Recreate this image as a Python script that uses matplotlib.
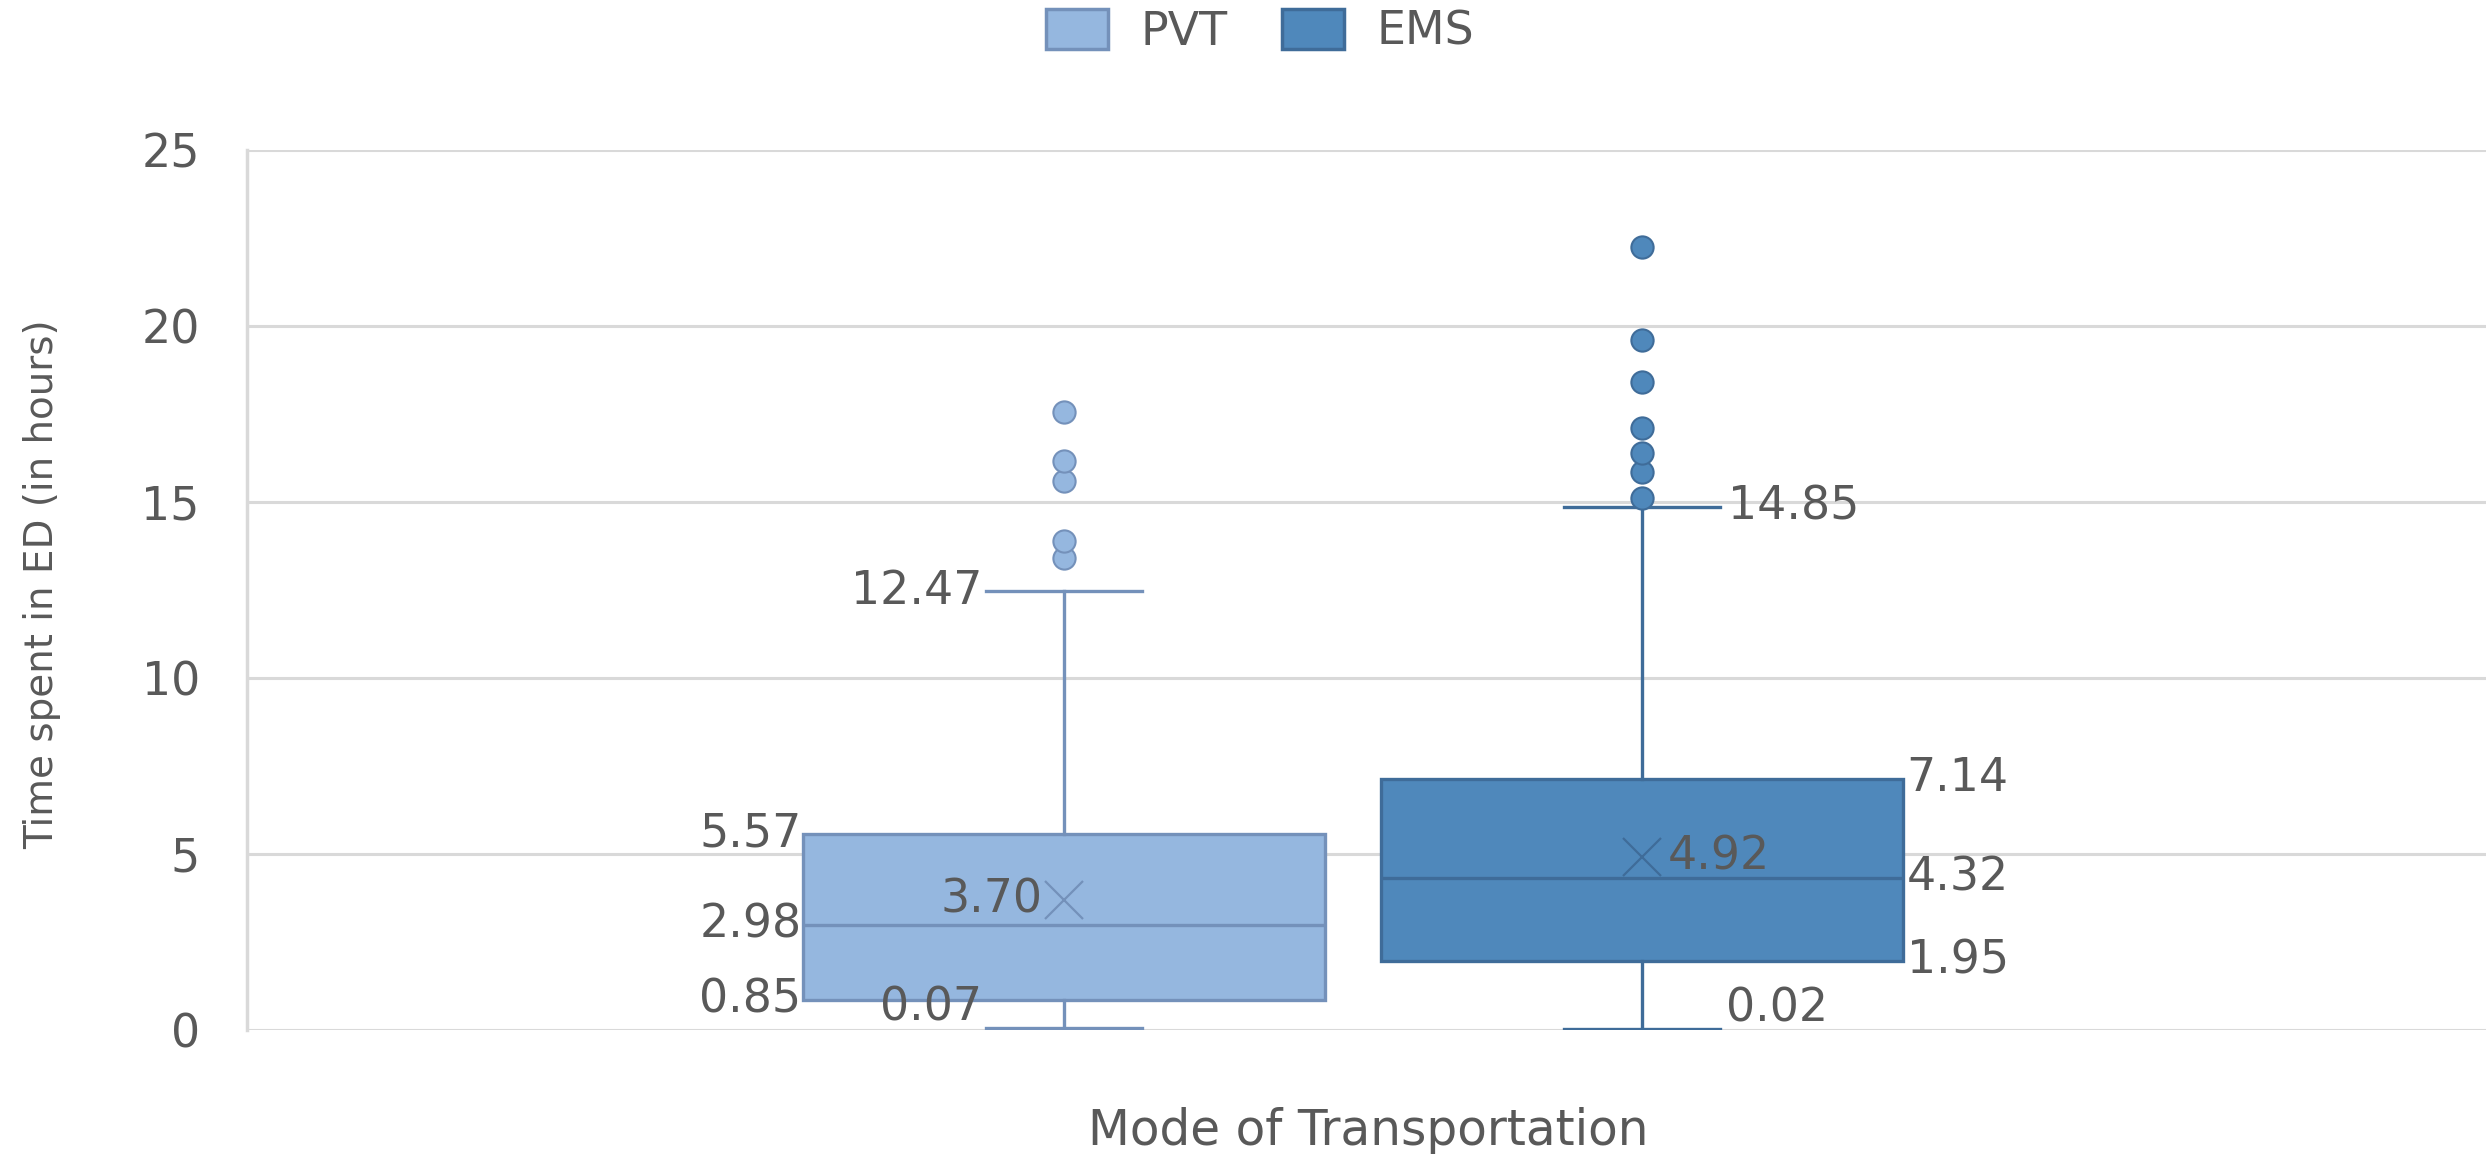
import matplotlib
matplotlib.use("Agg")
import matplotlib.pyplot as plt
from matplotlib.patches import Patch

# box statistics (hours)
series = ["PVT", "EMS"]
q1 = [0.85, 1.95]
median = [2.98, 4.32]
q3 = [5.57, 7.14]
whisker_lo = [0.07, 0.02]
whisker_hi = [12.47, 14.85]
means = [3.70, 4.92]
outliers_pvt = [13.42, 13.89, 15.61, 16.17, 17.55]
outliers_ems = [15.11, 15.86, 16.38, 17.11, 18.42, 19.60, 22.25]

fills = ["#95b7df", "#4f88bb"]
edges = ["#7491ba", "#3f6c99"]
text_c = "#595959"
grid_c = "#d9d9d9"

plt.rcParams["font.family"] = ["DejaVu Sans"]
fs = 33

fig = plt.figure(figsize=(24.86, 11.54), dpi=100)
ax = fig.add_axes([247 / 2486, 124 / 1154, 2239 / 2486, 880 / 1154])

positions = [0.365, 0.623]
width = 0.233
fliers = [outliers_pvt, outliers_ems]
stats = []
for i, name in enumerate(series):
    stats.append(dict(label=name, q1=q1[i], med=median[i], q3=q3[i],
                      whislo=whisker_lo[i], whishi=whisker_hi[i],
                      mean=means[i], fliers=fliers[i]))

for i in range(2):
    ax.bxp([stats[i]], positions=[positions[i]], widths=width,
           patch_artist=True, showmeans=True, capwidths=width * 0.3,
           boxprops=dict(facecolor=fills[i], edgecolor=edges[i], lw=2.4),
           medianprops=dict(color=edges[i], lw=2.4),
           whiskerprops=dict(color=edges[i], lw=2.4),
           capprops=dict(color=edges[i], lw=2.4),
           meanprops=dict(marker="x", markersize=27, markeredgewidth=1.6,
                          markeredgecolor=edges[i]),
           flierprops=dict(marker="o", markersize=16, markerfacecolor=fills[i],
                           markeredgecolor=edges[i], markeredgewidth=1.5),
           zorder=3)

ax.set_xlim(0, 1)
ax.set_ylim(0, 25)
ax.set_yticks([0, 5, 10, 15, 20, 25])
ax.set_xticks([])
ax.tick_params(axis="y", length=0, pad=34, labelsize=fs, labelcolor=text_c)
ax.yaxis.grid(True, color=grid_c, lw=2.2)
ax.set_axisbelow(True)
for s in ["top", "right", "bottom"]:
    ax.spines[s].set_visible(False)
ax.spines["left"].set_color(grid_c)
ax.spines["left"].set_linewidth(2.5)

# data labels
def lab(x, y, txt, ha, dx, dy=0):
    ax.annotate(txt, (x, y), xytext=(dx, dy), textcoords="offset pixels",
                ha=ha, va="center", fontsize=fs, color=text_c, zorder=5)

half = width / 2
cap = width * 0.15
x0, x1 = positions
for v in (q3[0], median[0], q1[0]):
    lab(x0 - half, v, f"{v:.2f}", "right", -2)
lab(x0 - cap, whisker_hi[0], f"{whisker_hi[0]:.2f}", "right", -4)
lab(x0 - cap, whisker_lo[0], f"{whisker_lo[0]:.2f}", "right", -4, 20)
lab(x0, means[0], f"{means[0]:.2f}", "right", -22)

for v in (q3[1], median[1], q1[1]):
    lab(x1 + half, v, f"{v:.2f}", "left", 4)
lab(x1 + cap, whisker_hi[1], f"{whisker_hi[1]:.2f}", "left", 8)
lab(x1 + cap, whisker_lo[1], f"{whisker_lo[1]:.2f}", "left", 6, 20)
lab(x1, means[1], f"{means[1]:.2f}", "left", 26)

fig.text(1368 / 2486, 1 - 1131 / 1154, "Mode of Transportation",
         ha="center", va="center", fontsize=35, color=text_c)
fig.text(42 / 2486, 1 - 584 / 1154, "Time spent in ED (in hours)",
         rotation=90, ha="center", va="center", fontsize=28, color=text_c)

handles = [Patch(facecolor=fills[i], edgecolor=edges[i], lw=2.5, label=series[i])
           for i in range(2)]
fig.legend(handles=handles, loc="center", bbox_to_anchor=(1260 / 2486, 1 - 32 / 1154),
           ncol=2, frameon=False, fontsize=fs, labelcolor=text_c,
           handlelength=1.35, handleheight=0.95, handletextpad=0.7,
           columnspacing=1.2)

fig.savefig("out.png", dpi=100)
